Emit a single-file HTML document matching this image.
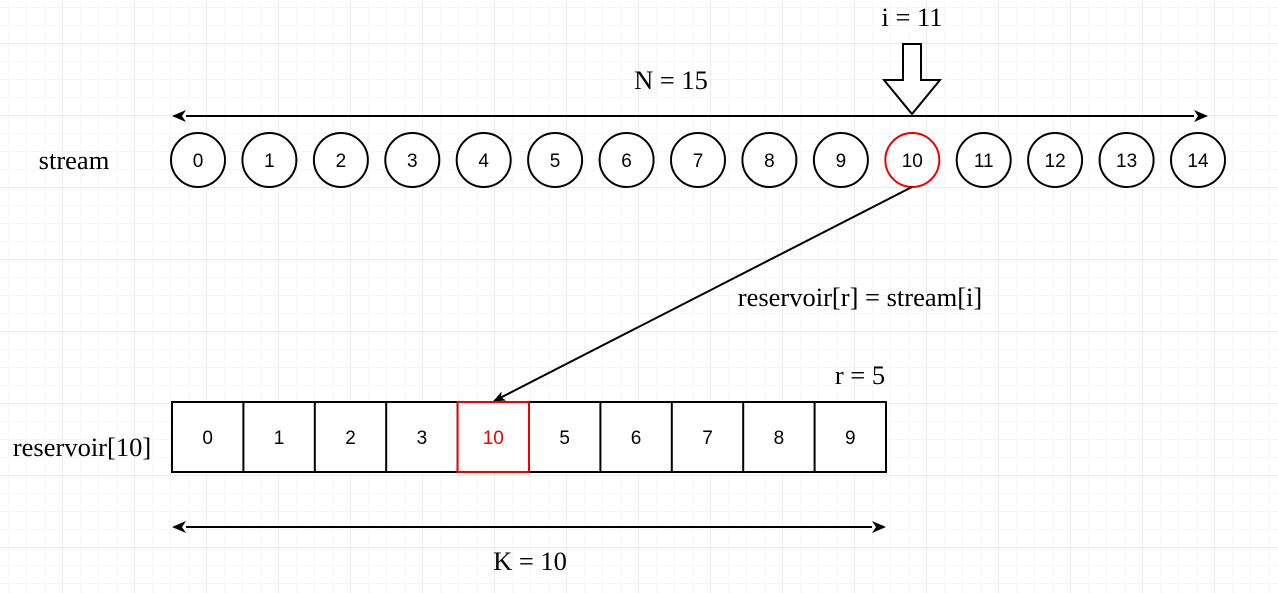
<!DOCTYPE html>
<html><head><meta charset="utf-8"><style>
html,body{margin:0;padding:0;background:#fff;}
svg{display:block;}
</style></head><body>
<svg width="1278" height="593" xmlns="http://www.w3.org/2000/svg">
<defs>
<pattern id="minor" x="8" y="7" width="18" height="18" patternUnits="userSpaceOnUse"><path d="M0 0H18M0 0V18" fill="none" stroke="#ececec" stroke-width="1"/></pattern>
<pattern id="major" x="62" y="43" width="72" height="72" patternUnits="userSpaceOnUse"><path d="M0 0H72M0 0V72" fill="none" stroke="#d8d8d8" stroke-width="1"/></pattern>
<marker id="ah" markerWidth="12" markerHeight="10" refX="11" refY="5" orient="auto" markerUnits="userSpaceOnUse"><path d="M0 0L12 5L0 10L3 5Z" fill="#000"/></marker>
</defs>
<rect width="1278" height="593" fill="url(#minor)"/>
<rect width="1278" height="593" fill="url(#major)"/>
<g font-family="Liberation Serif, serif" font-size="26.5" fill="#000">
<text x="912" y="26" text-anchor="middle">i = 11</text>
<text x="671" y="89" text-anchor="middle">N = 15</text>
<text x="74" y="169" text-anchor="middle">stream</text>
<text x="860" y="306" text-anchor="middle">reservoir[r] = stream[i]</text>
<text x="860" y="384" text-anchor="middle">r = 5</text>
<text x="82" y="456" text-anchor="middle">reservoir[10]</text>
<text x="530" y="570" text-anchor="middle">K = 10</text>
</g>
<line x1="186" y1="116" x2="1194" y2="116" stroke="#000" stroke-width="2"/>
<path d="M172 116L186 110L182 116L186 122Z"/><path d="M1208 116L1194 110L1198 116L1194 122Z"/>
<path d="M903 44H921V80H940L912 114L884 80H903Z" fill="#fff" stroke="#000" stroke-width="2"/>
<g font-family="Liberation Sans, sans-serif" font-size="19" text-anchor="middle">
<circle cx="198" cy="160" r="27" fill="#fff" stroke="#000" stroke-width="2"/><text x="198" y="167">0</text>
<circle cx="269.4" cy="160" r="27" fill="#fff" stroke="#000" stroke-width="2"/><text x="269.4" y="167">1</text>
<circle cx="340.9" cy="160" r="27" fill="#fff" stroke="#000" stroke-width="2"/><text x="340.9" y="167">2</text>
<circle cx="412.3" cy="160" r="27" fill="#fff" stroke="#000" stroke-width="2"/><text x="412.3" y="167">3</text>
<circle cx="483.7" cy="160" r="27" fill="#fff" stroke="#000" stroke-width="2"/><text x="483.7" y="167">4</text>
<circle cx="555.1" cy="160" r="27" fill="#fff" stroke="#000" stroke-width="2"/><text x="555.1" y="167">5</text>
<circle cx="626.6" cy="160" r="27" fill="#fff" stroke="#000" stroke-width="2"/><text x="626.6" y="167">6</text>
<circle cx="698" cy="160" r="27" fill="#fff" stroke="#000" stroke-width="2"/><text x="698" y="167">7</text>
<circle cx="769.4" cy="160" r="27" fill="#fff" stroke="#000" stroke-width="2"/><text x="769.4" y="167">8</text>
<circle cx="840.9" cy="160" r="27" fill="#fff" stroke="#000" stroke-width="2"/><text x="840.9" y="167">9</text>
<circle cx="912.3" cy="160" r="27" fill="#fff" stroke="#e00" stroke-width="2"/><text x="912.3" y="167">10</text>
<circle cx="983.7" cy="160" r="27" fill="#fff" stroke="#000" stroke-width="2"/><text x="983.7" y="167">11</text>
<circle cx="1055.1" cy="160" r="27" fill="#fff" stroke="#000" stroke-width="2"/><text x="1055.1" y="167">12</text>
<circle cx="1126.6" cy="160" r="27" fill="#fff" stroke="#000" stroke-width="2"/><text x="1126.6" y="167">13</text>
<circle cx="1198" cy="160" r="27" fill="#fff" stroke="#000" stroke-width="2"/><text x="1198" y="167">14</text>
</g>
<line x1="912" y1="187" x2="494" y2="401" stroke="#000" stroke-width="2" marker-end="url(#ah)"/>
<g font-family="Liberation Sans, sans-serif" font-size="19" text-anchor="middle">
<rect x="172" y="402" width="714" height="70" fill="#fff" stroke="#000" stroke-width="2"/>
<path d="M243.4 402V472M314.8 402V472M386.2 402V472M457.6 402V472M529 402V472M600.4 402V472M671.8 402V472M743.2 402V472M814.6 402V472" stroke="#000" stroke-width="2"/>
<rect x="457.6" y="402" width="71.4" height="70" fill="#fff" stroke="#e00" stroke-width="2"/>
<text x="207.7" y="444">0</text><text x="279.1" y="444">1</text><text x="350.5" y="444">2</text><text x="421.9" y="444">3</text>
<text x="493.3" y="444" fill="#e00">10</text><text x="564.7" y="444">5</text><text x="636.1" y="444">6</text><text x="707.5" y="444">7</text><text x="778.9" y="444">8</text><text x="850.3" y="444">9</text>
</g>
<line x1="186" y1="527" x2="872" y2="527" stroke="#000" stroke-width="2"/>
<path d="M172 527L186 521L182 527L186 533Z"/><path d="M886 527L872 521L876 527L872 533Z"/>
</svg>
</body></html>
